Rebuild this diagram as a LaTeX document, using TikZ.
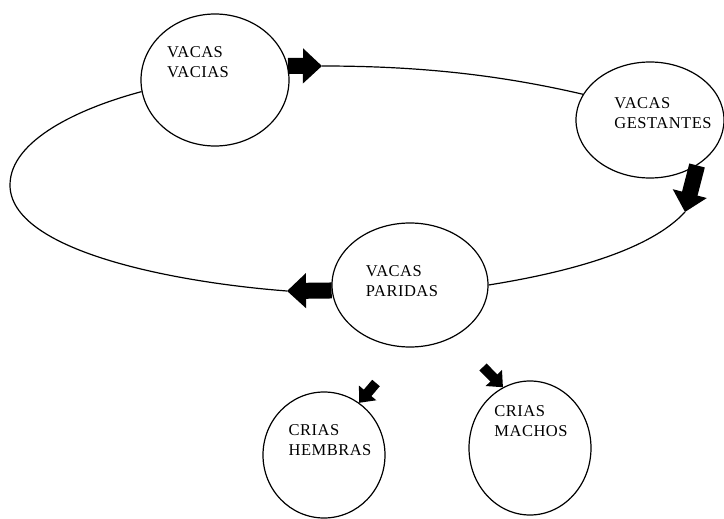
\documentclass[tikz,border=0pt]{standalone}
\usepackage{fontspec}
\setmainfont{Liberation Serif}[LetterSpace=3]
\usetikzlibrary{shapes.geometric,arrows.meta}

\begin{document}
\begin{tikzpicture}[x=1pt,y=-1pt,
        herd/.style={ellipse,draw,line width=1.2pt,inner sep=0pt},
        txt/.style={align=left,inner sep=0pt,font=\fontsize{16.5}{20.5}\selectfont},
        conn/.style={line width=1.2pt},
        fat/.style={line width=16pt,-{Triangle[length=19pt,width=34pt]}},
        small/.style={line width=10pt,-{Triangle[length=13pt,width=22pt]}}]
        \useasboundingbox (0,0) rectangle (724,519);

        % the herd
        \node[herd,minimum width=148pt,minimum height=132pt] (vacias) at (215,80) {};
        \node[herd,minimum width=148pt,minimum height=116pt] (gestantes) at (650,120) {};
        \node[herd,minimum width=156pt,minimum height=124pt] (paridas) at (410,285) {};
        \node[herd,minimum width=122pt,minimum height=126pt] (hembras) at (324,455) {};
        \node[herd,minimum width=122pt,minimum height=134pt] (machos) at (530,448) {};

        \node[txt] (vacias-txt) at (198,62) {VACAS\\VACIAS};
        \node[txt] (gestantes-txt) at (663,113) {VACAS\\GESTANTES};
        \node[txt] (paridas-txt) at (402,281) {VACAS\\PARIDAS};
        \node[txt] (hembras-txt) at (330,440) {CRIAS\\HEMBRAS};
        \node[txt] (machos-txt) at (531,421) {CRIAS\\MACHOS};

        % arrow ends
        \coordinate (tip1) at (322,66);
        \coordinate (tip2) at (685,212);
        \coordinate (tip3) at (287,291);
        \coordinate (tail4) at (376,383);
        \coordinate (tail5) at (483,367);

        % the cycle
        \draw[fat] (vacias.11) -- (tip1);
        \draw[conn] (tip1) .. controls (420,66) and (500,75) .. (gestantes.159);

        \draw[fat] (gestantes.-44) -- (tip2);
        \draw[conn] (tip2) .. controls (650,250) and (570,272) .. (paridas.east);

        \draw[fat] (paridas.184) -- (tip3);
        \draw[conn] (tip3) .. controls (170,282) and (10,250) .. (10,185)
                .. controls (10,140) and (80,108) .. (vacias.189);

        % calves
        \draw[small] (tail4) -- (hembras.56);
        \draw[small] (tail5) -- (machos.114);
    \end{tikzpicture}
\end{document}
